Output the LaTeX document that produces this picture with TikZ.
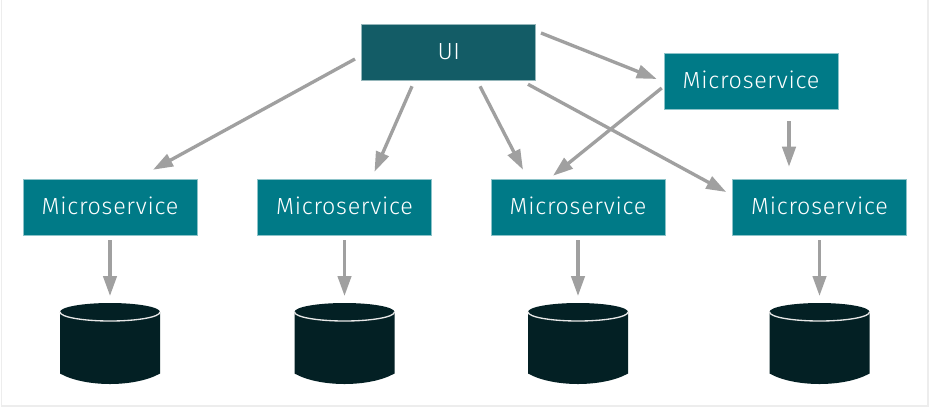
\documentclass[tikz,border=0pt]{standalone}
\usepackage{fontspec}
\setmainfont[LetterSpace=3]{Fira Sans Light}
\usetikzlibrary{arrows.meta}
\definecolor{serviceteal}{HTML}{007A87}
\definecolor{uiteal}{HTML}{135C66}
\definecolor{dbdark}{HTML}{032024}
\definecolor{flowgray}{HTML}{A0A0A0}
\definecolor{framegray}{HTML}{EDEDED}
\tikzset{
  servicebox/.style={fill=serviceteal, draw=serviceteal!45, line width=0.4pt, text=white, minimum width=130.5pt, minimum height=42pt, inner sep=0pt, text height=13pt, text depth=2.2pt, font=\fontsize{17.5}{20}\selectfont},
  uibox/.style={servicebox, fill=uiteal, draw=uiteal!45},
  dbase/.style={minimum width=75pt, minimum height=60.75pt, inner sep=0pt, outer sep=0pt},
  flow/.style={draw=flowgray, line width=2.5pt, -{Triangle[length=15pt,width=10pt]}}
}
\begin{document}
\begin{tikzpicture}[x=0.75pt,y=-0.75pt]
    % Outer frame
    \useasboundingbox (0,0) rectangle (934,408);
    \draw[framegray, line width=1.2pt, fill=white] (1.5,-2) rectangle (928,406);

    % Services
    \node[uibox] (ui) at (448.75,52) {UI};
    \node[servicebox] (top) at (751,81) {Microservice};
    \foreach \i/\xpos in {1/110,2/344.5,3/578,4/819.5} {
        \node[servicebox] (ms\i) at (\xpos,207) {Microservice};
    }

    % Databases under each service
    \foreach \i/\xpos in {1/110,2/344.5,3/578,4/819.5} {
        \node[dbase] (db\i) at (\xpos,343.5) {};
        \fill[dbdark] ([shift={(0,9)}]db\i.north west) arc[start angle=180, end angle=360, x radius=50, y radius=9]
            -- ([shift={(0,-10.5)}]db\i.south east)
            .. controls ([shift={(-25,3.5)}]db\i.south east) and ([shift={(25,3.5)}]db\i.south west) .. ([shift={(0,-10.5)}]db\i.south west) -- cycle;
        \draw[white!75!flowgray, line width=1pt] ([shift={(0,9)}]db\i.north west) arc[start angle=180, end angle=0, x radius=50, y radius=9];
        \draw[flow] ([shift={(0,5)}]ms\i.south) -- ([shift={(0,-7)}]db\i.north);
    }

    % Arrows from the UI
    \draw[flow] ([shift={(-6.5,7)}]ui.west) -- ([shift={(43,-9)}]ms1.north);
    \draw[flow] ([shift={(-36.75,6)}]ui.south) -- ([shift={(30,-7)}]ms2.north);
    \draw[flow] ([shift={(31.25,6)}]ui.south) -- ([shift={(-55,-9)}]ms3.north);
    \draw[flow] ([shift={(79.25,4)}]ui.south) -- ([shift={(-6,-15)}]ms4.west);
    \draw[flow] ([shift={(5,-19)}]ui.east) -- ([shift={(-7,-2)}]top.west);

    % Arrows from the upper service
    \draw[flow] ([shift={(-2,7)}]top.west) -- ([shift={(-25,-3)}]ms3.north);
    \draw[flow] ([shift={(38,12)}]top.south) -- ([shift={(-30.5,-12)}]ms4.north);
\end{tikzpicture}
\end{document}
